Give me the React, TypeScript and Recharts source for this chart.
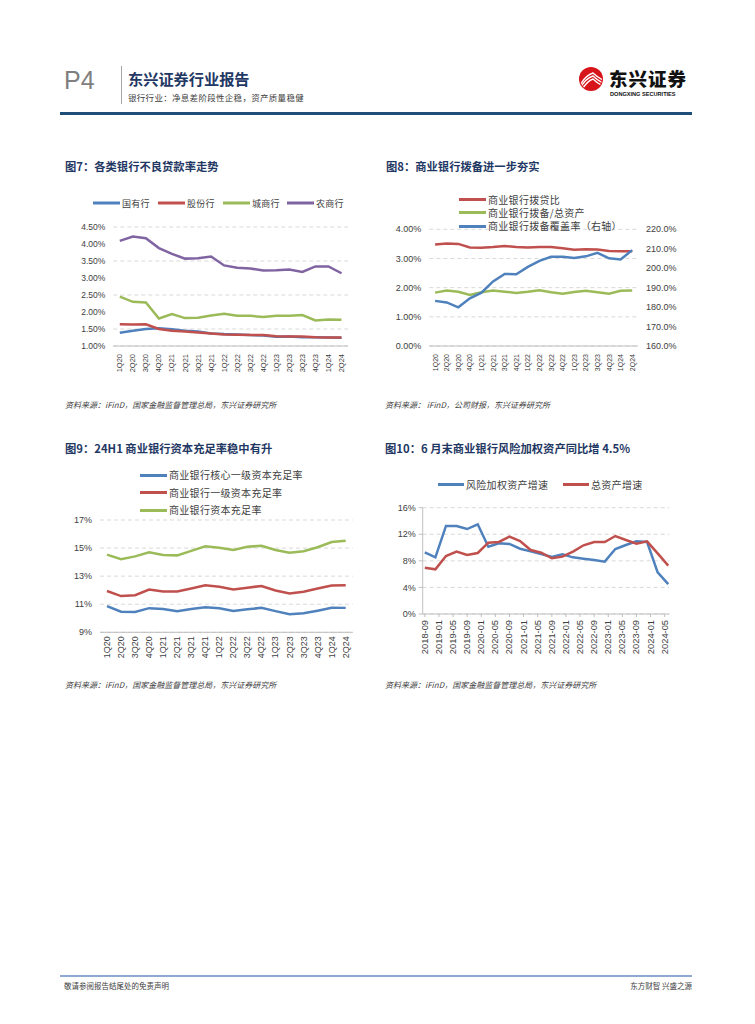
import React from 'react';
import { LineChart, Line, XAxis, YAxis, CartesianGrid } from 'recharts';

// quarterly categories shared by figs 7-9
const quarters = ['1Q20', '2Q20', '3Q20', '4Q20', '1Q21', '2Q21', '3Q21', '4Q21', '1Q22', '2Q22', '3Q22', '4Q22', '1Q23', '2Q23', '3Q23', '4Q23', '1Q24', '2Q24'];

// fig 7: NPL ratio by bank type (%)
const nplStateOwned = [1.39, 1.45, 1.5, 1.52, 1.49, 1.45, 1.43, 1.37, 1.35, 1.34, 1.32, 1.31, 1.27, 1.28, 1.26, 1.26, 1.25, 1.24];
const nplJointStock = [1.64, 1.63, 1.64, 1.5, 1.45, 1.43, 1.4, 1.37, 1.34, 1.33, 1.32, 1.32, 1.29, 1.28, 1.28, 1.26, 1.25, 1.25];
const nplCity = [2.45, 2.3, 2.28, 1.81, 1.94, 1.82, 1.83, 1.9, 1.95, 1.89, 1.89, 1.85, 1.89, 1.89, 1.91, 1.75, 1.78, 1.77];
const nplRural = [4.09, 4.22, 4.17, 3.88, 3.71, 3.57, 3.58, 3.63, 3.37, 3.3, 3.28, 3.22, 3.23, 3.25, 3.18, 3.34, 3.34, 3.14];
const nplTicks = [1, 1.5, 2, 2.5, 3, 3.5, 4, 4.5];

// fig 8: provisions
const provisionToLoan = [3.48, 3.51, 3.5, 3.38, 3.37, 3.39, 3.43, 3.39, 3.38, 3.39, 3.39, 3.35, 3.3, 3.32, 3.31, 3.26, 3.25, 3.25];
const provisionToAssets = [1.83, 1.9, 1.86, 1.75, 1.84, 1.9, 1.86, 1.82, 1.86, 1.91, 1.84, 1.79, 1.85, 1.89, 1.84, 1.79, 1.89, 1.9];
const provisionCoverage = [183.2, 182.4, 179.9, 184.5, 187.4, 193.2, 197.0, 196.9, 200.7, 203.8, 205.9, 205.9, 205.2, 206.1, 207.9, 205.1, 204.5, 209.3];
const provLeftTicks = [0, 1, 2, 3, 4];
const provRightTicks = [160, 170, 180, 190, 200, 210, 220];

// fig 9: capital adequacy (%)
const coreTier1 = [10.86, 10.47, 10.45, 10.72, 10.66, 10.5, 10.66, 10.78, 10.71, 10.52, 10.64, 10.74, 10.51, 10.28, 10.35, 10.54, 10.75, 10.74];
const tier1 = [11.94, 11.58, 11.64, 12.04, 11.91, 11.9, 12.12, 12.35, 12.25, 12.05, 12.18, 12.3, 11.98, 11.76, 11.89, 12.12, 12.33, 12.36];
const capitalRatio = [14.53, 14.21, 14.41, 14.7, 14.51, 14.48, 14.8, 15.13, 15.02, 14.87, 15.09, 15.17, 14.86, 14.66, 14.77, 15.06, 15.43, 15.53];
const capTicks = [9, 11, 13, 15, 17];

// fig 10: growth yoy (%)
const growthDates = ['2018-09', '2018-12', '2019-03', '2019-06', '2019-09', '2019-12', '2020-03', '2020-06', '2020-09', '2020-12', '2021-03', '2021-06', '2021-09', '2021-12', '2022-03', '2022-06', '2022-09', '2022-12', '2023-03', '2023-06', '2023-09', '2023-12', '2024-03', '2024-06'];
const rwaGrowth = [9.28, 8.53, 13.25, 13.25, 12.79, 13.5, 10.13, 10.64, 10.54, 9.83, 9.43, 9.03, 8.58, 8.98, 8.53, 8.33, 8.13, 7.88, 9.78, 10.39, 10.94, 10.84, 6.27, 4.5];
const assetGrowth = [6.97, 6.72, 8.73, 9.38, 8.88, 9.18, 10.74, 10.84, 11.64, 10.99, 9.63, 9.23, 8.38, 8.63, 9.38, 10.34, 10.84, 10.84, 11.74, 11.14, 10.59, 10.94, 9.13, 7.28];
const growthTickLabels = ['2018-09', '2019-01', '2019-05', '2019-09', '2020-01', '2020-05', '2020-09', '2021-01', '2021-05', '2021-09', '2022-01', '2022-05', '2022-09', '2023-01', '2023-05', '2023-09', '2024-01', '2024-05'];
const growthYTicks = [0, 4, 8, 12, 16];

const BLUE = '#4f81bd';
const RED = '#c0504d';
const GREEN = '#9bbb59';
const PURPLE = '#8064a2';
const NAVY = '#1f3864';
const GRID = '#d9d9d9';
const AXIS = '#bfbfbf';
const TEXT = '#404040';
const CJK = '"Noto Sans CJK SC", sans-serif';
const LATIN = '"Liberation Sans", Arial, sans-serif';

const monthIndex = (d: string) => {
  const [y, m] = d.split('-').map(Number);
  return (y - 2018) * 12 + (m - 9);
};

const nplData = quarters.map((q, i) => ({ q, s: nplStateOwned[i], j: nplJointStock[i], c: nplCity[i], r: nplRural[i] }));
const provData = quarters.map((q, i) => ({ q, loan: provisionToLoan[i], assets: provisionToAssets[i], cov: provisionCoverage[i] }));
const capData = quarters.map((q, i) => ({ q, core: coreTier1[i], t1: tier1[i], total: capitalRatio[i] }));
const growthData = growthDates.map((d, i) => ({ m: monthIndex(d), rwa: rwaGrowth[i], ta: assetGrowth[i] }));
const growthTicks = growthTickLabels.map(monthIndex);
const tickLabelByIndex: Record<number, string> = {};
growthTickLabels.forEach((l) => (tickLabelByIndex[monthIndex(l)] = l));

function VTick(props: any) {
  const { x, y, payload, size, fmt } = props;
  const label = fmt ? fmt(payload.value) : payload.value;
  return (
    <text x={x} y={y} transform={`rotate(-90 ${x} ${y})`} textAnchor="end" dominantBaseline="central" fontSize={size} fontFamily={LATIN} fill={TEXT}>
      {label}
    </text>
  );
}

function Legend({ x, y, color, label, lineW = 27, size = 10 }: any) {
  return (
    <div style={{ position: 'absolute', left: x, top: y, transform: 'translateY(-50%)', display: 'flex', alignItems: 'center', whiteSpace: 'nowrap' }}>
      <span style={{ display: 'inline-block', width: lineW, height: 3, background: color, marginRight: 2 }} />
      <span style={{ fontSize: size, fontFamily: CJK, color: TEXT, lineHeight: 1, letterSpacing: 0.3 }}>{label}</span>
    </div>
  );
}

function Title({ x, y, children }: any) {
  return (
    <div style={{ position: 'absolute', left: x, top: y, transform: 'translateY(-50%)', fontFamily: CJK, fontWeight: 700, fontSize: 11.3, color: NAVY, whiteSpace: 'nowrap', lineHeight: 1 }}>
      {children}
    </div>
  );
}

function Source({ x, y, children }: any) {
  return (
    <div style={{ position: 'absolute', left: x, top: y, transform: 'translateY(-50%)', fontFamily: CJK, fontStyle: 'italic', fontSize: 8, color: TEXT, whiteSpace: 'nowrap', lineHeight: 1 }}>
      {children}
    </div>
  );
}

const yTick = { fontSize: 8.5, fill: TEXT, fontFamily: LATIN };

function Fig7() {
  return (
    <div style={{ position: 'absolute', left: 60, top: 215 }}>
      <LineChart width={300} height={180} data={nplData} margin={{ top: 12, right: 12, left: 0, bottom: 0 }}>
        <CartesianGrid vertical={false} stroke={GRID} strokeDasharray="4 3" />
        <XAxis dataKey="q" interval={0} height={49} padding={{ left: 6.5, right: 6.5 }} stroke={AXIS} tickLine={false} tickSize={6} tickMargin={2} tick={(p: any) => <VTick {...p} size={7.5} />} />
        <YAxis width={53.3} domain={[1, 4.5]} ticks={nplTicks} axisLine={false} tickLine={false} tick={yTick} tickFormatter={(v: number) => v.toFixed(2) + '%'} />
        <Line dataKey="s" stroke={BLUE} strokeWidth={2.5} dot={false} isAnimationActive={false} />
        <Line dataKey="j" stroke={RED} strokeWidth={2.5} dot={false} isAnimationActive={false} />
        <Line dataKey="c" stroke={GREEN} strokeWidth={2.5} dot={false} isAnimationActive={false} />
        <Line dataKey="r" stroke={PURPLE} strokeWidth={2.5} dot={false} isAnimationActive={false} />
      </LineChart>
    </div>
  );
}

function Fig8() {
  return (
    <div style={{ position: 'absolute', left: 380, top: 215 }}>
      <LineChart width={320} height={180} data={provData} margin={{ top: 14.3, right: 0, left: 0, bottom: 0 }}>
        <CartesianGrid vertical={false} yAxisId="l" stroke={GRID} strokeDasharray="4 3" />
        <XAxis dataKey="q" interval={0} height={49} padding={{ left: 5.8, right: 5.8 }} stroke={AXIS} tickLine={false} tickSize={6} tickMargin={2} tick={(p: any) => <VTick {...p} size={7} />} />
        <YAxis yAxisId="l" width={49.3} domain={[0, 4]} ticks={provLeftTicks} axisLine={false} tickLine={false} tick={{ ...yTick, fontSize: 9 }} tickFormatter={(v: number) => v.toFixed(2) + '%'} />
        <YAxis yAxisId="r" orientation="right" width={62} domain={[160, 220]} ticks={provRightTicks} axisLine={false} tickLine={false} tick={{ ...yTick, fontSize: 9, textAnchor: 'start' }} tickFormatter={(v: number) => v.toFixed(1) + '%'} />
        <Line yAxisId="l" dataKey="loan" stroke={RED} strokeWidth={2.5} dot={false} isAnimationActive={false} />
        <Line yAxisId="l" dataKey="assets" stroke={GREEN} strokeWidth={2.5} dot={false} isAnimationActive={false} />
        <Line yAxisId="r" dataKey="cov" stroke={BLUE} strokeWidth={2.5} dot={false} isAnimationActive={false} />
      </LineChart>
    </div>
  );
}

function Fig9() {
  return (
    <div style={{ position: 'absolute', left: 60, top: 505 }}>
      <LineChart width={300} height={175} data={capData} margin={{ top: 15, right: 7.3, left: 0, bottom: 0 }}>
        <CartesianGrid vertical={false} stroke={GRID} strokeDasharray="4 3" />
        <XAxis dataKey="q" interval={0} height={47.7} padding={{ left: 7, right: 7 }} stroke={AXIS} tickLine={false} tickSize={2} tickMargin={2} tick={(p: any) => <VTick {...p} size={9} />} />
        <YAxis width={40} domain={[9, 17]} ticks={capTicks} axisLine={false} tickLine={false} tick={{ ...yTick, fontSize: 9 }} tickFormatter={(v: number) => v + '%'} />
        <Line dataKey="core" stroke={BLUE} strokeWidth={2.5} dot={false} isAnimationActive={false} />
        <Line dataKey="t1" stroke={RED} strokeWidth={2.5} dot={false} isAnimationActive={false} />
        <Line dataKey="total" stroke={GREEN} strokeWidth={2.5} dot={false} isAnimationActive={false} />
      </LineChart>
    </div>
  );
}

function Fig10() {
  return (
    <div style={{ position: 'absolute', left: 380, top: 495 }}>
      <LineChart width={320} height={185} data={growthData} margin={{ top: 12.7, right: 30.7, left: 0, bottom: 0 }}>
        <CartesianGrid vertical={false} stroke={GRID} strokeDasharray="4 3" />
        <XAxis dataKey="m" type="number" domain={[-0.6, 69.3]} ticks={growthTicks} interval={0} allowDataOverflow height={66} stroke={AXIS} tickSize={3} tickMargin={3} tick={(p: any) => <VTick {...p} size={9.3} fmt={(v: number) => tickLabelByIndex[v]} />} />
        <YAxis width={42.7} domain={[0, 16]} ticks={growthYTicks} stroke={AXIS} tickSize={4} tickMargin={3} tick={{ ...yTick, fontSize: 9 }} tickFormatter={(v: number) => v + '%'} />
        <Line dataKey="rwa" stroke={BLUE} strokeWidth={2.5} dot={false} isAnimationActive={false} />
        <Line dataKey="ta" stroke={RED} strokeWidth={2.5} dot={false} isAnimationActive={false} />
      </LineChart>
    </div>
  );
}

function Logo() {
  return (
    <svg style={{ position: 'absolute', left: 577, top: 65 }} width={28} height={28} viewBox="0 0 28 28">
      <defs>
        <clipPath id="lc">
          <circle cx={14} cy={14} r={11} />
        </clipPath>
      </defs>
      <circle cx={14} cy={14} r={12} fill="#d7141a" />
      <g clipPath="url(#lc)" stroke="#fff" strokeWidth={1.4} fill="none">
        <path d="M3 20 Q9 10 16 8 Q20 12 26 15" />
        <path d="M3 23 Q9 13 16 11 Q20 15 26 18" />
        <path d="M4 26 Q10 16 16 14 Q20 18 26 21" />
      </g>
    </svg>
  );
}

export default function App() {
  return (
    <div style={{ position: 'absolute', left: 0, top: 0, width: 755, height: 1024, background: '#fff', overflow: 'hidden' }}>
      {/* header */}
      <div style={{ position: 'absolute', left: 64, top: 80, transform: 'translateY(-50%)', fontFamily: LATIN, fontSize: 25, color: '#808080', lineHeight: 1 }}>P4</div>
      <div style={{ position: 'absolute', left: 121, top: 66, width: 1, height: 38, background: '#a6a6a6' }} />
      <div style={{ position: 'absolute', left: 128, top: 79, transform: 'translateY(-50%)', fontFamily: CJK, fontWeight: 700, fontSize: 15.2, color: NAVY, lineHeight: 1, whiteSpace: 'nowrap' }}>东兴证券行业报告</div>
      <div style={{ position: 'absolute', left: 128, top: 97, transform: 'translateY(-50%)', fontFamily: CJK, fontSize: 8.5, color: TEXT, lineHeight: 1, whiteSpace: 'nowrap', letterSpacing: 0.3 }}>银行行业：净息差阶段性企稳，资产质量稳健</div>
      <Logo />
      <div style={{ position: 'absolute', left: 609, top: 77.5, transform: 'translateY(-50%)', fontFamily: CJK, fontWeight: 900, fontSize: 18.5, color: '#111', lineHeight: 1, whiteSpace: 'nowrap', letterSpacing: 1 }}>东兴证券</div>
      <div style={{ position: 'absolute', left: 610, top: 94.5, transform: 'translateY(-50%)', fontFamily: LATIN, fontWeight: 700, fontSize: 5.6, color: '#111', lineHeight: 1, whiteSpace: 'nowrap' }}>DONGXING SECURITIES</div>
      <div style={{ position: 'absolute', left: 60, top: 112, width: 632, height: 3, background: '#1f4e79' }} />

      {/* fig 7 */}
      <Title x={65} y={167}>图7：各类银行不良贷款率走势</Title>
      <Legend x={93} y={203} color={BLUE} label="国有行" size={9} />
      <Legend x={158} y={203} color={RED} label="股份行" size={9} />
      <Legend x={223} y={203} color={GREEN} label="城商行" size={9} />
      <Legend x={287} y={203} color={PURPLE} label="农商行" size={9} />
      <Fig7 />
      <Source x={65} y={405}>资料来源：iFinD，国家金融监督管理总局，东兴证券研究所</Source>

      {/* fig 8 */}
      <Title x={386} y={167}>图8：商业银行拨备进一步夯实</Title>
      <Fig8 />
      <Legend x={459} y={199.5} color={RED} label="商业银行拨贷比" />
      <Legend x={459} y={212.5} color={GREEN} label="商业银行拨备/总资产" />
      <Legend x={459} y={226} color={BLUE} label="商业银行拨备覆盖率（右轴）" />
      <Source x={385} y={405}>资料来源： iFinD，公司财报，东兴证券研究所</Source>

      {/* fig 9 */}
      <Title x={65} y={449}>图9：24H1 商业银行资本充足率稳中有升</Title>
      <Legend x={140} y={475} color={BLUE} label="商业银行核心一级资本充足率" />
      <Legend x={140} y={492.5} color={RED} label="商业银行一级资本充足率" />
      <Legend x={140} y={510} color={GREEN} label="商业银行资本充足率" />
      <Fig9 />
      <Source x={65} y={685}>资料来源：iFinD，国家金融监督管理总局，东兴证券研究所</Source>

      {/* fig 10 */}
      <Title x={385} y={449}>图10：6 月末商业银行风险加权资产同比增 4.5%</Title>
      <Legend x={438} y={484.5} color={BLUE} label="风险加权资产增速" lineW={26} />
      <Legend x={563} y={484.5} color={RED} label="总资产增速" lineW={26} />
      <Fig10 />
      <Source x={385} y={685}>资料来源：iFinD，国家金融监督管理总局，东兴证券研究所</Source>

      {/* footer */}
      <div style={{ position: 'absolute', left: 60, top: 975, width: 632, height: 1.5, background: '#8eaad0' }} />
      <div style={{ position: 'absolute', left: 64, top: 986, transform: 'translateY(-50%)', fontFamily: CJK, fontSize: 7.5, color: TEXT, lineHeight: 1, whiteSpace: 'nowrap' }}>敬请参阅报告结尾处的免责声明</div>
      <div style={{ position: 'absolute', right: 63, top: 986, transform: 'translateY(-50%)', fontFamily: CJK, fontSize: 7.5, color: TEXT, lineHeight: 1, whiteSpace: 'nowrap' }}>东方财智 兴盛之源</div>
    </div>
  );
}
